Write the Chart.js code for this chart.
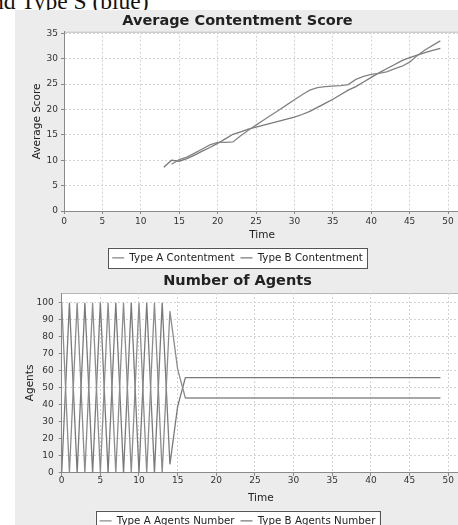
<html>
<head>
  <meta charset="utf-8">
  <title>Contentment and Agents</title>
  <script src="https://cdn.jsdelivr.net/npm/chart.js"></script>
  <style>
    body {
      margin: 0;
      width: 458px; height: 525px;
      overflow: hidden;
      position: relative;
      background: white;
      font-family: 'DejaVu Sans', sans-serif;
    }
    #caption {
      position: absolute; left: -8px; top: -11px;
      font-family: 'Liberation Serif', serif; font-size: 23.5px; line-height: 24px;
      color: #111; white-space: nowrap;
    }
    #panel {
      position: absolute; left: 15px; top: 10px; right: 0; bottom: 0;
      background: #ececec;
    }
    canvas { position: absolute; left: 0; }
  </style>
</head>
<body>
  <div id="caption">nd Type S (blue)</div>
  <div id="panel"></div>
  <canvas id="scoreChart" width="460" height="273" style="top:0"></canvas>
  <canvas id="agentChart" width="460" height="264" style="top:272px"></canvas>

<script>
// average contentment score, time steps 13..49
const scoreTime = [13,14,15,16,17,18,19,20,21,22,23,24,25,26,27,28,29,30,31,32,33,34,35,36,37,38,39,40,41,42,43,44,45,46,47,48,49];
const typeAScore = [null,9.2,10.1,10.6,11.4,12.2,13.0,13.5,13.5,13.6,14.8,15.9,16.9,17.9,18.9,19.9,20.9,21.9,22.9,23.8,24.3,24.5,24.6,24.7,24.9,25.9,26.5,26.9,27.1,27.4,28.0,28.5,29.3,30.6,31.7,32.6,33.5];
const typeBScore = [8.6,10.0,9.8,10.3,11.0,11.8,12.5,13.3,14.2,15.1,15.6,16.1,16.5,16.9,17.3,17.7,18.1,18.5,19.0,19.6,20.4,21.2,22.0,22.9,23.8,24.5,25.4,26.3,27.2,28.0,28.8,29.6,30.2,30.7,31.2,31.6,32.0];

// number of agents, time steps 0..49
const agentTime = [0,1,2,3,4,5,6,7,8,9,10,11,12,13,14,15,16,17,18,19,20,21,22,23,24,25,26,27,28,29,30,31,32,33,34,35,36,37,38,39,40,41,42,43,44,45,46,47,48,49];
const typeANumber = [100,0,100,0,100,0,100,0,100,0,100,0,100,0,95,61,44,44,44,44,44,44,44,44,44,44,44,44,44,44,44,44,44,44,44,44,44,44,44,44,44,44,44,44,44,44,44,44,44,44];
const typeBNumber = [0,100,0,100,0,100,0,100,0,100,0,100,0,100,5,39,56,56,56,56,56,56,56,56,56,56,56,56,56,56,56,56,56,56,56,56,56,56,56,56,56,56,56,56,56,56,56,56,56,56];

// tick values
const timeTicks = [0,5,10,15,20,25,30,35,40,45,50];
const scoreTicks = [0,5,10,15,20,25,30,35];
const agentTicks = [0,10,20,30,40,50,60,70,80,90,100];

const FONT = "'DejaVu Sans', sans-serif";

function toPoints(xs, ys) {
  return xs.map((x, i) => ({ x: x, y: ys[i] }));
}

// white plot area + thin outline, box around the legend
const plotFrame = {
  id: 'plotFrame',
  beforeDraw(chart) {
    const a = chart.chartArea, ctx = chart.ctx;
    ctx.save();
    ctx.fillStyle = 'white';
    ctx.fillRect(a.left, a.top, a.right - a.left, a.bottom - a.top);
    ctx.strokeStyle = '#b8b8b8';
    ctx.lineWidth = 1;
    ctx.beginPath();
    ctx.moveTo(a.left, a.top + 0.5);
    ctx.lineTo(a.right, a.top + 0.5);
    ctx.stroke();
    ctx.restore();
  },
  afterDraw(chart) {
    const boxes = chart.legend.legendHitBoxes;
    if (!boxes || !boxes.length) return;
    const ctx = chart.ctx;
    let l = Infinity, r = -Infinity, t = Infinity, b = -Infinity;
    boxes.forEach(h => {
      l = Math.min(l, h.left); r = Math.max(r, h.left + h.width);
      t = Math.min(t, h.top); b = Math.max(b, h.top + h.height);
    });
    ctx.save();
    ctx.fillStyle = 'white';
    ctx.globalCompositeOperation = 'destination-over';
    ctx.fillRect(l - 4, t - 5, r - l + 8, b - t + 10);
    ctx.globalCompositeOperation = 'source-over';
    ctx.strokeStyle = '#555';
    ctx.lineWidth = 1;
    ctx.strokeRect(Math.round(l - 4) + 0.5, Math.round(t - 5) + 0.5, Math.round(r - l + 8), Math.round(b - t + 10));
    ctx.restore();
  }
};

function axisX(max, height, tickPad, titlePad) {
  return {
    type: 'linear', min: 0, max: max,
    afterFit(s) { s.height = height; },
    afterBuildTicks(s) { s.ticks = timeTicks.map(v => ({ value: v })); },
    ticks: { padding: tickPad, color: '#333', font: { family: FONT, size: 9 }, maxRotation: 0, autoSkip: false },
    title: { display: true, text: 'Time', color: '#222', font: { family: FONT, size: 10.5 }, padding: { top: 0, bottom: titlePad } },
    grid: { color: '#d4d4d4', tickColor: '#888', tickLength: 3, tickBorderDash: [] },
    border: { display: true, color: '#8a8a8a', dash: [2, 2] }
  };
}

function axisY(max, tickList, width, label, tickPad, titlePad) {
  return {
    min: 0, max: max,
    afterFit(s) { s.width = width; },
    afterBuildTicks(s) { s.ticks = tickList.map(v => ({ value: v })); },
    ticks: { padding: tickPad, color: '#333', font: { family: FONT, size: 9 }, autoSkip: false },
    title: { display: true, text: label, color: '#222', font: { family: FONT, size: 10.5 }, padding: { top: titlePad, bottom: 0 } },
    grid: { color: '#d4d4d4', tickColor: '#888', tickLength: 3, tickBorderDash: [] },
    border: { display: true, color: '#8a8a8a', dash: [2, 2] }
  };
}

function legendOpts() {
  return {
    position: 'bottom',
    labels: {
      usePointStyle: true, pointStyle: 'line', pointStyleWidth: 12,
      padding: 6, color: '#222', font: { family: FONT, size: 10.3 }
    }
  };
}

function lineSet(label, pts, color) {
  return {
    label: label, data: pts,
    borderColor: color, backgroundColor: color,
    borderWidth: 1.3, pointRadius: 0, tension: 0, fill: false
  };
}

new Chart(document.getElementById('scoreChart'), {
  type: 'line',
  data: {
    datasets: [
      lineSet('Type A Contentment', toPoints(scoreTime, typeAScore), '#858585'),
      lineSet('Type B Contentment', toPoints(scoreTime, typeBScore), '#7a7a7a')
    ]
  },
  options: {
    responsive: false, animation: false,
    layout: { padding: { left: 15, top: 10, right: 0, bottom: 0 } },
    plugins: {
      title: { display: true, text: 'Average Contentment Score', color: '#222',
        font: { family: FONT, size: 14.5, weight: 'bold' }, padding: { top: 3, bottom: 1.3 } },
      legend: legendOpts(),
      tooltip: { enabled: false }
    },
    scales: {
      x: axisX(51.56, 35.7, 2, 5.4),
      y: axisY(35.3, scoreTicks, 49, 'Average Score', 3, 15.7)
    }
  },
  plugins: [plotFrame]
});

new Chart(document.getElementById('agentChart'), {
  type: 'line',
  data: {
    datasets: [
      lineSet('Type A Agents Number', toPoints(agentTime, typeANumber), '#8c8c8c'),
      lineSet('Type B Agents Number', toPoints(agentTime, typeBNumber), '#7a7a7a')
    ]
  },
  options: {
    responsive: false, animation: false,
    layout: { padding: { left: 15, top: 0, right: 0, bottom: 0 } },
    plugins: {
      title: { display: true, text: 'Number of Agents', color: '#222',
        font: { family: FONT, size: 14.5, weight: 'bold' }, padding: { top: 0.3, bottom: 3.3 } },
      legend: legendOpts(),
      tooltip: { enabled: false }
    },
    scales: {
      x: axisX(51.53, 36.85, -1, 5.4),
      y: axisY(105.7, agentTicks, 46.7, 'Agents', 5, 8.7)
    }
  },
  plugins: [plotFrame]
});
</script>
</body>
</html>
